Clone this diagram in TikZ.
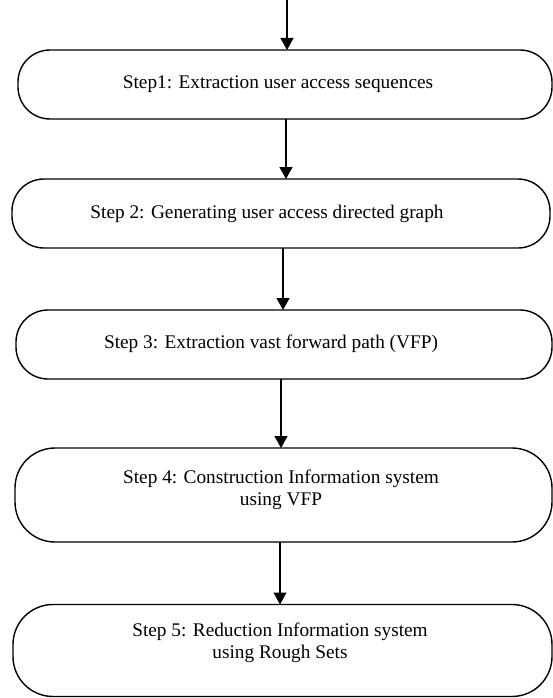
\documentclass[tikz,border=0pt]{standalone}
\usepackage{fontspec}
\setmainfont{Liberation Serif}
\usetikzlibrary{arrows.meta}
\begin{document}
\begin{tikzpicture}[x=1pt,y=-1pt,
  stepbox/.style={draw=black,line width=1.4pt,rectangle,inner sep=0pt,outer sep=0pt},
  steptext/.style={font=\fontsize{19.3}{21.5}\selectfont,align=center,inner sep=0pt},
  arr/.style={line width=1.4pt,-{Triangle[width=13pt,length=12pt]}}]
\useasboundingbox (0,0) rectangle (553,698);
\node[stepbox,rounded corners=32pt,minimum width=534pt,minimum height=69pt] (b1) at (285,84.5) {};
\node[stepbox,rounded corners=32pt,minimum width=538pt,minimum height=69pt] (b2) at (281,213.5) {};
\node[stepbox,rounded corners=32pt,minimum width=536pt,minimum height=69pt] (b3) at (284,344.5) {};
\node[stepbox,rounded corners=40pt,minimum width=537pt,minimum height=94pt] (b4) at (283.5,495) {};
\node[stepbox,rounded corners=40pt,minimum width=539pt,minimum height=92pt] (b5) at (282.5,650.5) {};
\node[steptext] (t1) at (278,84) {Step1: Extraction user access sequences};
\node[steptext] (t2) at (267,214) {Step 2: Generating user access directed graph};
\node[steptext] (t3) at (271,344) {Step 3: Extraction vast forward path (VFP)};
\node[steptext] (t4) at (281,490) {Step 4: Construction Information system\\using VFP};
\node[steptext] (t5) at (280,643) {Step 5: Reduction Information system\\using Rough Sets};
\coordinate (a0) at (287,0);
\coordinate (a1) at (286,0);
\coordinate (a2) at (283,0);
\coordinate (a3) at (281,0);
\coordinate (a4) at (280,0);
\draw[arr] (a0) -- (a0 |- b1.north);
\draw[arr] (b1.south -| a1) -- (b2.north -| a1);
\draw[arr] (b2.south -| a2) -- (b3.north -| a2);
\draw[arr] (b3.south -| a3) -- (b4.north -| a3);
\draw[arr] (b4.south -| a4) -- (b5.north -| a4);
\end{tikzpicture}
\end{document}
